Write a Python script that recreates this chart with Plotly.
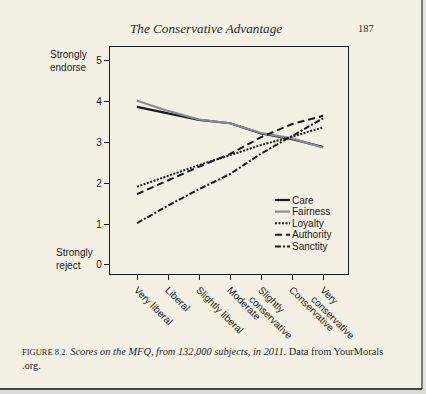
import plotly.graph_objects as go

# ---------------- data ----------------
categories = ["Very liberal", "Liberal", "Slightly liberal", "Moderate",
              "Slightly<br>conservative", "Conservative", "Very<br>conservative"]
care = [3.86, 3.70, 3.54, 3.46, 3.21, 3.07, 2.88]
fairness = [4.01, 3.76, 3.55, 3.46, 3.22, 3.09, 2.86]
loyalty = [1.91, 2.18, 2.44, 2.68, 2.93, 3.13, 3.36]
authority = [1.73, 2.07, 2.40, 2.71, 3.12, 3.44, 3.64]
sanctity = [1.02, 1.45, 1.85, 2.22, 2.72, 3.15, 3.58]
y_ticks = [0, 1, 2, 3, 4, 5]
series_names = ["Care", "Fairness", "Loyalty", "Authority", "Sanctity"]

# ---------------- layout geometry ----------------
W, H = 426, 394
L, R, T, B = 110, 78, 47, 120
PW, PH = W - L - R, H - T - B


def px2x(px):
    return (px - L) / PW


def py2y(py):
    return (H - B - py) / PH


styles = {
    "Care": dict(color="#1a1a1a", width=2.2, dash="solid"),
    "Fairness": dict(color="#8c8c8c", width=2.2, dash="solid"),
    "Loyalty": dict(color="#1a1a1a", width=2, dash="2px,1.5px"),
    "Authority": dict(color="#1a1a1a", width=2, dash="7px,4px"),
    "Sanctity": dict(color="#1a1a1a", width=2, dash="6px,2px,2px,2px"),
}
values = {"Care": care, "Fairness": fairness, "Loyalty": loyalty,
          "Authority": authority, "Sanctity": sanctity}

xs = list(range(len(categories)))
fig = go.Figure()
for name in ["Care", "Fairness", "Loyalty", "Authority", "Sanctity"]:
    fig.add_trace(go.Scatter(x=xs, y=values[name], mode="lines", name=name,
                             line=styles[name], showlegend=False, hoverinfo="skip"))

page = "#f4f1e4"
sans = "Liberation Sans, Arial, sans-serif"
serif = "Liberation Serif, Times New Roman, serif"

shapes = []
annotations = []

# manual compact legend
for i, name in enumerate(series_names):
    yy = py2y(200 + i * 11.6)
    st = styles[name]
    shapes.append(dict(type="line", xref="paper", yref="paper",
                       x0=px2x(275), x1=px2x(290), y0=yy, y1=yy,
                       line=dict(color=st["color"], width=st["width"], dash=st["dash"])))
    annotations.append(dict(xref="paper", yref="paper", x=px2x(290), y=yy,
                            text=name, showarrow=False, xanchor="left", yanchor="middle",
                            font=dict(family=sans, size=10, color="#1a1a1a")))

# page edges / shadow
shapes.append(dict(type="rect", xref="paper", yref="paper", layer="above",
                   x0=px2x(422), x1=px2x(430), y0=py2y(-5), y1=py2y(400),
                   fillcolor="#e4e4e2", line=dict(width=0)))
shapes.append(dict(type="rect", xref="paper", yref="paper", layer="above",
                   x0=px2x(-5), x1=px2x(430), y0=py2y(389), y1=py2y(400),
                   fillcolor="#dcdcda", line=dict(width=0)))
shapes.append(dict(type="line", xref="paper", yref="paper", layer="above",
                   x0=px2x(422), x1=px2x(422), y0=py2y(-5), y1=py2y(389),
                   line=dict(color="#555", width=1.5)))
shapes.append(dict(type="line", xref="paper", yref="paper", layer="above",
                   x0=px2x(-5), x1=px2x(422), y0=py2y(389), y1=py2y(389),
                   line=dict(color="#444", width=2)))

# axis end labels
annotations.append(dict(xref="paper", yref="paper", x=px2x(48), y=py2y(61),
                        text="Strongly<br>endorse", showarrow=False, align="left",
                        xanchor="left", yanchor="middle",
                        font=dict(family=sans, size=10, color="#1a1a1a")))
annotations.append(dict(xref="paper", yref="paper", x=px2x(54), y=py2y(259),
                        text="Strongly<br>reject", showarrow=False, align="left",
                        xanchor="left", yanchor="middle",
                        font=dict(family=sans, size=10, color="#1a1a1a")))

# running head
annotations.append(dict(xref="paper", yref="paper", x=px2x(206), y=py2y(28),
                        text="<i>The Conservative Advantage</i>", showarrow=False,
                        xanchor="center", yanchor="middle",
                        font=dict(family=serif, size=13.2, color="#2a2a2a")))
annotations.append(dict(xref="paper", yref="paper", x=px2x(366), y=py2y(28),
                        text="187", showarrow=False, xanchor="center", yanchor="middle",
                        font=dict(family=serif, size=10.5, color="#2a2a2a")))

# caption
annotations.append(dict(xref="paper", yref="paper", x=px2x(20), y=py2y(358),
                        text="<span style='font-size:8.5px'>FIGURE 8.2.</span> "
                             "<i>Scores on the MFQ, from 132,000 subjects, in 2011.</i> "
                             "Data from YourMorals<br>.org.",
                        showarrow=False, align="left", xanchor="left", yanchor="middle",
                        font=dict(family=serif, size=10.4, color="#2a2a2a")))

fig.update_layout(
    width=W, height=H,
    margin=dict(l=L, r=R, t=T, b=B, pad=0, autoexpand=False),
    paper_bgcolor=page, plot_bgcolor=page,
    showlegend=False, hovermode=False,
    shapes=shapes, annotations=annotations,
    xaxis=dict(range=[-0.87, 6.8], tickvals=xs, ticktext=categories, automargin=False,
               tickangle=45, ticks="outside", ticklen=5, tickcolor="#1a1a1a",
               showgrid=False, zeroline=False, showline=True, linecolor="#1a1a1a",
               linewidth=1.2, mirror=True,
               tickfont=dict(family=sans, size=10, color="#1a1a1a")),
    yaxis=dict(range=[-0.22, 5.32], tickvals=y_ticks, ticks="outside", ticklen=5,
               automargin=False,
               tickcolor="#1a1a1a", showgrid=False, zeroline=False, showline=True,
               linecolor="#1a1a1a", linewidth=1.2, mirror=True,
               tickfont=dict(family=sans, size=10, color="#1a1a1a")),
)

fig.write_html("out.html",
               config={"displayModeBar": False, "staticPlot": True},
               post_script="document.body.style.margin='0';"
                           "document.body.style.overflow='hidden';"
                           "document.body.style.background='%s';" % page)
